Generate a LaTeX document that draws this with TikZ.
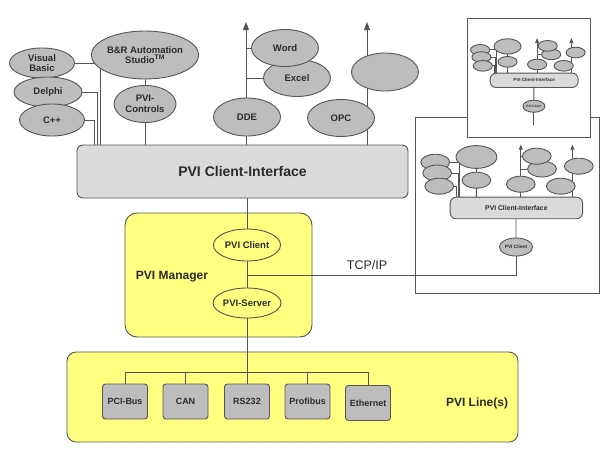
\documentclass[tikz,border=0pt]{standalone}
\usepackage{fontspec}
\setmainfont{Liberation Sans}
\usetikzlibrary{arrows.meta,shapes.geometric,backgrounds}
\definecolor{ink}{HTML}{2B2B2B}
\definecolor{edge}{HTML}{555555}
\definecolor{bubble}{HTML}{BDBDBD}
\definecolor{panel}{HTML}{DADADA}
\definecolor{lemon}{HTML}{FFFF80}
\pgfdeclarelayer{boxes}
\pgfdeclarelayer{wires}
\pgfsetlayers{boxes,wires,main}

\begin{document}
\begin{tikzpicture}[
  x=1pt, y=-1pt,
  >=Stealth,
  bub/.style={ellipse, draw=edge, fill=bubble, line width=0.9pt, inner sep=0pt, align=center, text=ink, font=\bfseries\fontsize{9.5}{10.5}\selectfont},
  minibub/.style={bub, minimum width=72pt, minimum height=40pt},
  iface/.style={draw=edge, fill=panel, rounded corners=6pt, line width=0.9pt, text=ink, font=\bfseries\fontsize{14}{16}\selectfont},
  yel/.style={draw=edge, fill=lemon, line width=0.9pt},
  busbox/.style={draw=edge, fill=bubble, rounded corners=3pt, line width=0.9pt, minimum width=45pt, minimum height=35pt, inner sep=0pt, text=ink, font=\bfseries\fontsize{9}{10}\selectfont},
  wire/.style={draw=edge, line width=0.9pt},
  upline/.style={wire, -{Triangle[length=8pt,width=6pt]}},
  frame/.style={draw=edge, line width=0.8pt},
  clientside/.pic={
    \node[iface, anchor=north west, minimum width=331pt, minimum height=54pt, font=\bfseries\fontsize{17}{19}\selectfont] (-ci) at (0,0) {PVI Client-Interface};
    \node[minibub] (-vb) at (-37,-87) {};
    \node[minibub] (-dl) at (-32,-60) {};
    \node[minibub] (-cpp) at (-27,-27) {};
    \node[minibub, minimum width=102pt, minimum height=57pt] (-br) at (66,-100) {};
    \node[minibub] (-ctl) at (66,-42) {};
    \node[minibub] (-xl) at (230,-70) {};
    \node[minibub] (-word) at (217,-102) {};
    \node[minibub] (-dde) at (177,-32) {};
    \node[minibub] (-opc) at (277,-27) {};
    \node[minibub] (-blank) at (322,-77) {};
    \node[minibub, minimum width=83pt, minimum height=45pt, font=\bfseries\fontsize{12}{13}\selectfont] (-pc) at (165,125) {PVI Client};
    \coordinate (-a1) at (177,-131);
    \coordinate (-a2) at (306,-131);
    \begin{pgfonlayer}{wires}
      \draw[wire] (-vb.east) -| (23,0 |- -ci.north);
      \draw[wire] (-dl.east) -| (20,0 |- -ci.north);
      \draw[wire] (-cpp.east) -| (17,0 |- -ci.north);
      \draw[wire] (-br) -- (-br |- -ci.north);
      \draw[wire, -{Triangle[length=5pt,width=4pt]}] (-ci.north -| -a1) -- (-a1);
      \draw[wire, -{Triangle[length=5pt,width=4pt]}] (-ci.north -| -a2) -- (-a2);
      \draw[wire] (-word.west) -- (-word.west -| -a1);
      \draw[wire] (-xl.west) -- (-xl.west -| -a1);
      \draw[wire] (-pc) -- (-pc |- -ci.south);
    \end{pgfonlayer}
  },
]
\useasboundingbox (0,0) rectangle (612,453);

% yellow areas
\begin{pgfonlayer}{boxes}
  \node[yel, rounded corners=12pt, minimum width=187pt, minimum height=124pt] (mgr) at (218.5,275) {};
  \node[yel, rounded corners=9pt, minimum width=451pt, minimum height=90pt] (lines) at (292.5,397) {};
\end{pgfonlayer}

% client interface and its users
\node[iface, minimum width=331pt, minimum height=53pt] (ci) at (242.5,171.5) {PVI Client-Interface};
\node[bub, minimum width=65pt, minimum height=30pt] (vb) at (42,63) {Visual\\Basic};
\node[bub, minimum width=68pt, minimum height=30pt] (dl) at (48,92) {Delphi};
\node[bub, minimum width=65pt, minimum height=32pt] (cpp) at (52,120) {C++};
\node[bub, minimum width=99pt, minimum height=48pt] (br) at (145,55) {B\&R Automation\\Studio\textsuperscript{TM}};
\node[bub, minimum width=62pt, minimum height=37pt] (ctl) at (145,104) {PVI-\\Controls};
\node[bub, minimum width=67pt, minimum height=37pt] (xl) at (297,78) {Excel};
\node[bub, minimum width=67pt, minimum height=37pt] (word) at (285,48) {Word};
\node[bub, minimum width=67pt, minimum height=38pt] (dde) at (247,117) {DDE};
\node[bub, minimum width=67pt, minimum height=38pt] (blank) at (385,72) {};
\node[bub, minimum width=67pt, minimum height=37pt] (opc) at (341,118) {OPC};
\coordinate (up1) at (246,22);
\coordinate (up2) at (367,22);

% PVI manager
\node[bub, fill=lemon, minimum width=67pt, minimum height=32pt] (pc) at (247,245) {PVI Client};
\node[bub, fill=lemon, minimum width=67pt, minimum height=30pt] (ps) at (247,303) {PVI-Server};
\node[text=ink, font=\bfseries\fontsize{12}{14}\selectfont] (mgrtxt) at (172,277) {PVI Manager};
\node[text=ink, font=\fontsize{12.5}{14}\selectfont] (tcptxt) at (367,265) {TCP/IP};

% PVI lines
\node[busbox] (pci) at (125,401.5) {PCI-Bus};
\node[busbox] (can) at (185.5,401.5) {CAN};
\node[busbox] (rs) at (247,401.5) {RS232};
\node[busbox] (prof) at (307.5,401.5) {Profibus};
\node[busbox] (eth) at (368,403) {Ethernet};
\node[text=ink, font=\bfseries\fontsize{12}{14}\selectfont] (linetxt) at (477,403) {PVI Line(s)};
\coordinate (bus) at (0,372);

% remote stations
\draw[frame] (467,117) -| (415,293) -| (599,117) -- (590,117);
\node[frame, inner sep=0pt, minimum width=123pt, minimum height=119pt] (hiframe) at (528.5,77.5) {};
\pic[scale=0.4, transform shape] (lo) at (450,197) {clientside};
\pic[scale=0.266, transform shape] (hi) at (490,73) {clientside};

\begin{pgfonlayer}{wires}
  \draw[wire] (vb.east) -| (100,0 |- ci.north);
  \draw[wire] (dl.east) -| (97,0 |- ci.north);
  \draw[wire] (cpp.east) -| (94,0 |- ci.north);
  \draw[wire] (br) -- (br |- ci.north);
  \draw[upline] (ci.north -| up1) -- (up1);
  \draw[upline] (ci.north -| up2) -- (up2);
  \draw[wire] (word.west) -- (word.west -| up1);
  \draw[wire] (xl.west) -- (xl.west -| up1);
  \draw[wire] (pc |- ci.south) -- (rs.north);
  \draw[wire] (pc |- 0,275) -| (lo-pc.south);
  \draw[wire] (hi-pc.south) -- (hi-pc.south |- 0,125);
  \draw[wire] (pci.north |- bus) -- (eth.north |- bus);
  \foreach \b in {pci,can,prof,eth}
    \draw[wire] (\b.north) -- (\b.north |- bus);
\end{pgfonlayer}
\end{tikzpicture}
\end{document}
